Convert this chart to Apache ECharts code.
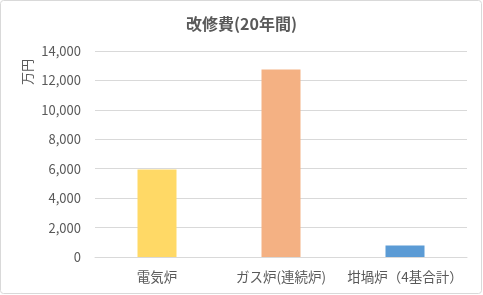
<!DOCTYPE html>
<html><head><meta charset="utf-8">
<script src="https://cdn.jsdelivr.net/npm/echarts@6/dist/echarts.min.js"></script>
<style>html,body{margin:0;padding:0;background:#fff}#c{width:483px;height:295px}</style>
</head><body><div id="c"></div>
<script>
const categories = ['電気炉', 'ガス炉(連続炉)', '坩堝炉（4基合計）'];
const values = [5950, 12750, 780];
const colors = ['#FFD966', '#F4B183', '#5B9BD5'];
const titleText = '改修費(20年間)';
const yName = '万円';
const FF = '"Noto Sans CJK JP", "Noto Sans", sans-serif';
const chart = echarts.init(document.getElementById('c'), null, {renderer: 'canvas'});
chart.setOption({
  animation: false,
  backgroundColor: '#fff',
  title: {text: titleText, left: 'center', top: 11,
    textStyle: {fontFamily: FF, fontSize: 16, fontWeight: 'bold', color: '#595959'}},
  graphic: [
    {type: 'rect', shape: {x: 0.5, y: 0.5, width: 481, height: 293, r: 3},
     style: {fill: 'none', stroke: '#D9D9D9', lineWidth: 1}},
    {type: 'text', x: 27, y: 72, rotation: Math.PI / 2,
     style: {text: yName, font: '13px ' + FF, fill: '#595959', align: 'center', verticalAlign: 'middle'}}
  ],
  grid: {left: 95, right: 16, top: 51, bottom: 38},
  xAxis: {type: 'category', data: categories,
    axisLine: {lineStyle: {color: '#D9D9D9'}}, axisTick: {show: false},
    axisLabel: {fontFamily: FF, fontSize: 13.5, color: '#595959', margin: 13, interval: 0}},
  yAxis: {type: 'value', min: 0, max: 14000, interval: 2000,
    axisLine: {show: false}, axisTick: {show: false},
    splitLine: {lineStyle: {color: '#D9D9D9'}},
    axisLabel: {fontFamily: FF, fontSize: 13, color: '#595959', margin: 14,
      formatter: v => v.toLocaleString('en-US')}},
  series: [{type: 'bar', barWidth: 39,
    data: values.map((v, i) => ({value: v, itemStyle: {color: colors[i]}}))}]
});
</script></body></html>
